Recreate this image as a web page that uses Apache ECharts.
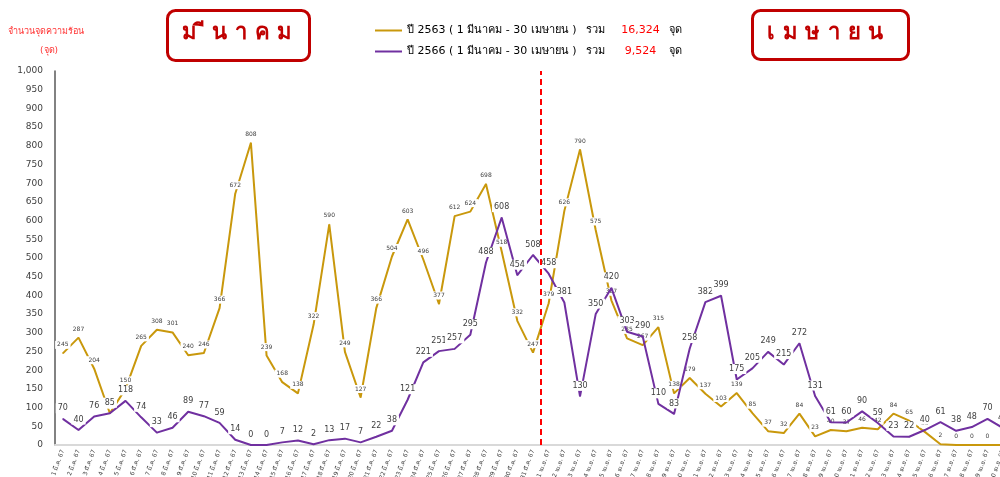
<!DOCTYPE html>
<html>
<head>
<meta charset="utf-8">
<script src="https://cdn.jsdelivr.net/npm/echarts@6/dist/echarts.min.js"></script>
<style>
  html, body { margin: 0; padding: 0; background: #fff; }
  #main { width: 1000px; height: 477px; }
</style>
</head>
<body>
<div id="main"></div>
<script>
// วันที่ มี.ค. / เม.ย.
const marchDays = [];
for (let d = 1; d <= 31; d++) marchDays.push(d + " มี.ค. 67");
const aprilDays = [];
for (let d = 1; d <= 30; d++) aprilDays.push(d + " เม.ย. 67");
const categories = marchDays.concat(aprilDays);

const seriesNames = ["ปี 2563 ( 1 มีนาคม - 30 เมษายน )", "ปี 2566 ( 1 มีนาคม - 30 เมษายน )"];
const legendTotals = ["16,324", "9,524"];

const hotspots2563 = [
  245, 287, 204, 85, 150, 265, 308, 301, 240, 246, 366, 672, 808, 239, 168, 138,
  322, 590, 249, 127, 366, 504, 603, 496, 377, 612, 624, 698, 518, 332, 247,
  379, 626, 790, 575, 387, 285, 267, 315, 138, 179, 137, 103, 139, 85, 37,
  32, 84, 23, 40, 37, 46, 42, 84, 65, 35, 2, 0, 0, 0, 0
];
const hotspots2566 = [
  70, 40, 76, 85, 118, 74, 33, 46, 89, 77, 59, 14, 0, 0, 7, 12,
  2, 13, 17, 7, 22, 38, 121, 221, 251, 257, 295, 488, 608, 454, 508,
  458, 381, 130, 350, 420, 303, 290, 110, 83, 258, 382, 399, 175, 205, 249,
  215, 272, 131, 61, 60, 90, 59, 23, 22, 40, 61, 38, 48, 70, 45
];

const FONT = 'Tahoma, "DejaVu Sans", "Noto Sans", sans-serif';
const goldColor = "#c9980c";
const purpleColor = "#7030a0";
const boxRed = "#c00000";

var chart = echarts.init(document.getElementById("main"));

var option = {
  animation: false,
  textStyle: { fontFamily: FONT },
  grid: { left: 55, right: -11, top: 71, bottom: 32, containLabel: false, outerBoundsMode: "none" },
  legend: {
    orient: "vertical",
    left: 370,
    top: 20,
    itemGap: 10,
    itemWidth: 27,
    itemHeight: 2,
    icon: "rect",
    data: seriesNames,
    selectedMode: false,
    formatter: function (name) {
      var i = seriesNames.indexOf(name);
      return "{a|" + name + "}{b|รวม}{c|" + legendTotals[i] + "}{d|จุด}";
    },
    textStyle: {
      fontFamily: FONT,
      rich: {
        a: { width: 179, fontSize: 11, color: "#000", lineHeight: 14 },
        b: { width: 38, fontSize: 11, color: "#000", lineHeight: 14 },
        c: { width: 33, fontSize: 11, color: "#ff0000", align: "right", lineHeight: 14 },
        d: { fontSize: 11, color: "#000", padding: [0, 0, 0, 12], lineHeight: 14 }
      }
    }
  },
  xAxis: [
    {
      type: "category",
      data: categories,
      boundaryGap: true,
      axisLine: { lineStyle: { color: "#d9d9d9", width: 2 } },
      axisTick: { show: false },
      axisLabel: {
        interval: 0,
        rotate: 70,
        fontSize: 6,
        color: "#404040",
        margin: 5
      }
    },
    {
      type: "value",
      min: 0,
      max: categories.length,
      show: false
    }
  ],
  yAxis: {
    type: "value",
    min: 0,
    max: 1000,
    interval: 50,
    axisLine: { show: true, lineStyle: { color: "#595959", width: 1.5 } },
    axisTick: { show: false },
    splitLine: { show: false },
    axisLabel: {
      fontSize: 9,
      color: "#404040",
      margin: 12,
      formatter: function (v) { return v.toLocaleString("en-US"); }
    }
  },
  series: [
    {
      name: seriesNames[0],
      type: "line",
      data: hotspots2563,
      symbol: "circle",
      symbolSize: 1,
      showSymbol: true,
      z: 3,
      lineStyle: { color: goldColor, width: 2 },
      itemStyle: { color: goldColor },
      label: {
        show: true,
        position: "top",
        distance: 4,
        fontSize: 6,
        color: "#404040",
        backgroundColor: "#fff",
        padding: [1, 2]
      }
    },
    {
      name: seriesNames[1],
      type: "line",
      data: hotspots2566,
      symbol: "circle",
      symbolSize: 1,
      showSymbol: true,
      z: 4,
      lineStyle: { color: purpleColor, width: 2 },
      itemStyle: { color: purpleColor },
      label: {
        show: true,
        position: "top",
        distance: 5,
        fontSize: 8,
        color: "#404040",
        backgroundColor: "#fff",
        padding: [1, 2]
      }
    },
    {
      // เส้นแบ่งเดือน มี.ค. / เม.ย.
      type: "line",
      xAxisIndex: 1,
      data: [],
      silent: true,
      markLine: {
        symbol: "none",
        silent: true,
        label: { show: false },
        lineStyle: { color: "#ff0000", type: [6, 4], width: 2 },
        data: [{ xAxis: marchDays.length }]
      }
    }
  ],
  graphic: [
    {
      type: "text",
      left: 8,
      top: 27,
      style: { text: "จำนวนจุดความร้อน", fill: "#ff3333", font: "9px " + FONT }
    },
    {
      type: "text",
      left: 40,
      top: 46,
      style: { text: "(จุด)", fill: "#ff3333", font: "9px " + FONT }
    },
    {
      type: "rect",
      left: 165,
      top: 8,
      shape: { width: 142, height: 50, r: 8 },
      style: { fill: "none", stroke: boxRed, lineWidth: 3 }
    },
    {
      type: "text",
      left: 182,
      top: 22,
      style: { text: "ม ี น า ค ม", fill: boxRed, font: "bold 22px " + FONT }
    },
    {
      type: "rect",
      left: 750,
      top: 8,
      shape: { width: 156, height: 49, r: 8 },
      style: { fill: "none", stroke: boxRed, lineWidth: 3 }
    },
    {
      type: "text",
      left: 767,
      top: 22,
      style: { text: "เ ม ษ า ย น", fill: boxRed, font: "bold 22px " + FONT }
    }
  ]
};

chart.setOption(option);
</script>
</body>
</html>
